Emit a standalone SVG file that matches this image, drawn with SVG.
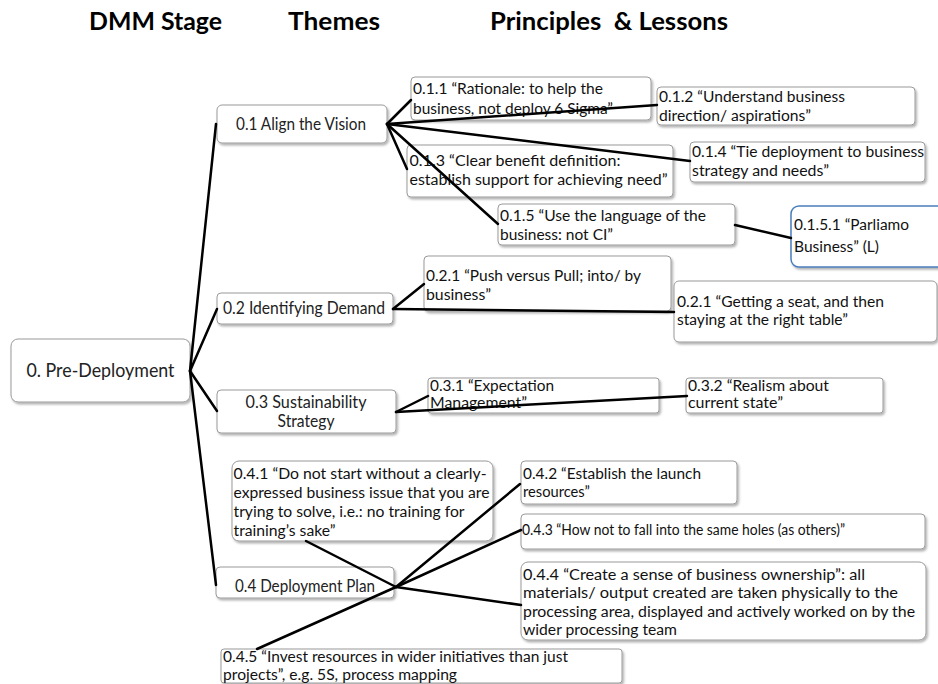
<svg xmlns="http://www.w3.org/2000/svg" width="938" height="684" viewBox="0 0 938 684">
<defs>
<filter id="sh" x="-10%" y="-10%" width="130%" height="140%">
<feDropShadow dx="1.5" dy="2" stdDeviation="1.2" flood-color="#000" flood-opacity="0.3"/>
</filter>
</defs>
<style>
text{font-family:Lato,"Liberation Sans",Arial,sans-serif}
.hd{font-weight:bold;font-size:24px;fill:#000}
.bx{fill:#fff;stroke:#9a9a9a;stroke-width:1;filter:url(#sh)}
.bb{fill:#fff;stroke:#4a7ebb;stroke-width:1.5;filter:url(#sh)}
.pre{font-size:19px;fill:#222;text-anchor:middle}
.th{font-size:16.5px;fill:#222;text-anchor:middle}
.pr{font-size:15.5px;fill:#111}
.cn line{stroke:#000;stroke-width:2.5;stroke-linecap:round}
</style>
<rect width="938" height="684" fill="#fff"/>
<g id="headers">
<text class="hd" x="89" y="30" textLength="133" lengthAdjust="spacingAndGlyphs">DMM Stage</text>
<text class="hd" x="288" y="30" textLength="92" lengthAdjust="spacingAndGlyphs">Themes</text>
<text class="hd" x="490" y="30" textLength="238" lengthAdjust="spacingAndGlyphs" xml:space="preserve">Principles  &amp; Lessons</text>
</g>
<g id="node-0">
<rect class="bx" x="11" y="339" width="179" height="63" rx="7"/>
<text class="pre" x="100.5" y="377" textLength="148" lengthAdjust="spacingAndGlyphs">0. Pre-Deployment</text>
</g>
<g id="node-0-1">
<rect class="bx" x="217" y="105" width="170" height="38" rx="5"/>
<text class="th" x="301" y="129.5" textLength="130" lengthAdjust="spacingAndGlyphs">0.1 Align the Vision</text>
</g>
<g id="node-0-2">
<rect class="bx" x="217" y="293" width="176" height="31" rx="4"/>
<text class="th" x="304" y="314" textLength="162" lengthAdjust="spacingAndGlyphs">0.2 Identifying Demand</text>
</g>
<g id="node-0-3">
<rect class="bx" x="217" y="390" width="179" height="43" rx="4"/>
<text class="th" x="306" y="408" textLength="121" lengthAdjust="spacingAndGlyphs">0.3 Sustainability</text>
<text class="th" x="306" y="427" textLength="57" lengthAdjust="spacingAndGlyphs">Strategy</text>
</g>
<g id="node-0-4">
<rect class="bx" x="216" y="567" width="178" height="31" rx="4"/>
<text class="th" x="305" y="592" textLength="140" lengthAdjust="spacingAndGlyphs">0.4 Deployment Plan</text>
</g>
<g id="node-0-1-1">
<rect class="bx" x="411" y="77" width="240" height="43" rx="4"/>
<text class="pr" x="413" y="94" textLength="190" lengthAdjust="spacingAndGlyphs">0.1.1 “Rationale: to help the</text>
<text class="pr" x="413" y="113.5" textLength="200" lengthAdjust="spacingAndGlyphs">business, not deploy 6 Sigma”</text>
</g>
<g id="node-0-1-2">
<rect class="bx" x="657" y="87" width="258" height="38" rx="4"/>
<text class="pr" x="659" y="102" textLength="186" lengthAdjust="spacingAndGlyphs">0.1.2 “Understand business</text>
<text class="pr" x="659" y="121" textLength="152" lengthAdjust="spacingAndGlyphs">direction/ aspirations”</text>
</g>
<g id="node-0-1-3">
<rect class="bx" x="407" y="145" width="266" height="52" rx="4"/>
<text class="pr" x="409.5" y="166" textLength="211" lengthAdjust="spacingAndGlyphs">0.1.3 “Clear benefit definition:</text>
<text class="pr" x="409.5" y="185" textLength="258" lengthAdjust="spacingAndGlyphs">establish support for achieving need”</text>
</g>
<g id="node-0-1-4">
<rect class="bx" x="690" y="142" width="235" height="40" rx="4"/>
<text class="pr" x="692" y="157" textLength="232" lengthAdjust="spacingAndGlyphs">0.1.4 “Tie deployment to business</text>
<text class="pr" x="692" y="176" textLength="137" lengthAdjust="spacingAndGlyphs">strategy and needs”</text>
</g>
<g id="node-0-1-5">
<rect class="bx" x="498" y="204" width="237" height="41" rx="4"/>
<text class="pr" x="500" y="221" textLength="206" lengthAdjust="spacingAndGlyphs">0.1.5 “Use the language of the</text>
<text class="pr" x="500" y="240" textLength="113" lengthAdjust="spacingAndGlyphs">business: not CI”</text>
</g>
<g id="node-0-1-5-1">
<rect class="bb" x="791" y="206" width="175" height="61" rx="8"/>
<text class="pr" x="794" y="230" textLength="115" lengthAdjust="spacingAndGlyphs">0.1.5.1 “Parliamo</text>
<text class="pr" x="794" y="252" textLength="85" lengthAdjust="spacingAndGlyphs">Business” (L)</text>
</g>
<g id="node-0-2-1a">
<rect class="bx" x="424" y="256" width="247" height="55" rx="4"/>
<text class="pr" x="426" y="281" textLength="215" lengthAdjust="spacingAndGlyphs">0.2.1 “Push versus Pull; into/ by</text>
<text class="pr" x="426" y="300" textLength="65" lengthAdjust="spacingAndGlyphs">business”</text>
</g>
<g id="node-0-2-1b">
<rect class="bx" x="674" y="281" width="263" height="61" rx="5"/>
<text class="pr" x="677" y="306.5" textLength="207" lengthAdjust="spacingAndGlyphs">0.2.1 “Getting a seat, and then</text>
<text class="pr" x="677" y="325" textLength="171" lengthAdjust="spacingAndGlyphs">staying at the right table”</text>
</g>
<g id="node-0-3-1">
<rect class="bx" x="428" y="378" width="231" height="35" rx="3"/>
<text class="pr" x="430" y="391" textLength="124" lengthAdjust="spacingAndGlyphs">0.3.1 “Expectation</text>
<text class="pr" x="430" y="408" textLength="97" lengthAdjust="spacingAndGlyphs">Management”</text>
</g>
<g id="node-0-3-2">
<rect class="bx" x="686" y="378" width="197" height="35" rx="3"/>
<text class="pr" x="688" y="391" textLength="141" lengthAdjust="spacingAndGlyphs">0.3.2 “Realism about</text>
<text class="pr" x="688" y="408" textLength="95" lengthAdjust="spacingAndGlyphs">current state”</text>
</g>
<g id="node-0-4-1">
<rect class="bx" x="232" y="461" width="261" height="80" rx="7"/>
<text class="pr" x="233.5" y="479" textLength="253" lengthAdjust="spacingAndGlyphs">0.4.1 “Do not start without a clearly-</text>
<text class="pr" x="233.5" y="498" textLength="256" lengthAdjust="spacingAndGlyphs">expressed business issue that you are</text>
<text class="pr" x="233.5" y="517" textLength="231" lengthAdjust="spacingAndGlyphs">trying to solve, i.e.: no training for</text>
<text class="pr" x="233.5" y="536" textLength="102" lengthAdjust="spacingAndGlyphs">training’s sake”</text>
</g>
<g id="node-0-4-2">
<rect class="bx" x="521" y="461" width="216" height="43" rx="4"/>
<text class="pr" x="523" y="479" textLength="178" lengthAdjust="spacingAndGlyphs">0.4.2 “Establish the launch</text>
<text class="pr" x="523" y="497" textLength="67" lengthAdjust="spacingAndGlyphs">resources”</text>
</g>
<g id="node-0-4-3">
<rect class="bx" x="521" y="514" width="404" height="35" rx="4"/>
<text class="pr" x="522" y="535" textLength="323" lengthAdjust="spacingAndGlyphs">0.4.3 “How not to fall into the same holes (as others)”</text>
</g>
<g id="node-0-4-4">
<rect class="bx" x="521" y="562" width="405" height="78" rx="7"/>
<text class="pr" x="523" y="580" textLength="342" lengthAdjust="spacingAndGlyphs">0.4.4 “Create a sense of business ownership”: all</text>
<text class="pr" x="523" y="598" textLength="375" lengthAdjust="spacingAndGlyphs">materials/ output created are taken physically to the</text>
<text class="pr" x="523" y="617" textLength="392" lengthAdjust="spacingAndGlyphs">processing area, displayed and actively worked on by the</text>
<text class="pr" x="523" y="635" textLength="154" lengthAdjust="spacingAndGlyphs">wider processing team</text>
</g>
<g id="node-0-4-5">
<rect class="bx" x="221" y="649" width="401" height="34" rx="3"/>
<text class="pr" x="223" y="662" textLength="345" lengthAdjust="spacingAndGlyphs">0.4.5 “Invest resources in wider initiatives than just</text>
<text class="pr" x="223" y="680" textLength="234" lengthAdjust="spacingAndGlyphs">projects”, e.g. 5S, process mapping</text>
</g>
<g id="connectors" class="cn">
<line x1="190" y1="371" x2="216" y2="124"/>
<line x1="190" y1="371" x2="217" y2="309"/>
<line x1="190" y1="371" x2="217" y2="411"/>
<line x1="190" y1="371" x2="216" y2="585"/>
<line x1="387" y1="124" x2="411" y2="100"/>
<line x1="387" y1="124" x2="657" y2="105"/>
<line x1="387" y1="124" x2="690" y2="161"/>
<line x1="387" y1="124" x2="407" y2="169"/>
<line x1="387" y1="124" x2="498" y2="224"/>
<line x1="735" y1="225" x2="791" y2="238"/>
<line x1="393" y1="309" x2="424" y2="284"/>
<line x1="393" y1="309" x2="674" y2="312"/>
<line x1="396" y1="412" x2="428" y2="396"/>
<line x1="396" y1="412" x2="687" y2="396"/>
<line x1="396" y1="587" x2="306" y2="541"/>
<line x1="396" y1="587" x2="520" y2="484"/>
<line x1="396" y1="587" x2="521" y2="530"/>
<line x1="396" y1="587" x2="521" y2="605"/>
<line x1="396" y1="587" x2="257" y2="649"/>
</g>
</svg>
